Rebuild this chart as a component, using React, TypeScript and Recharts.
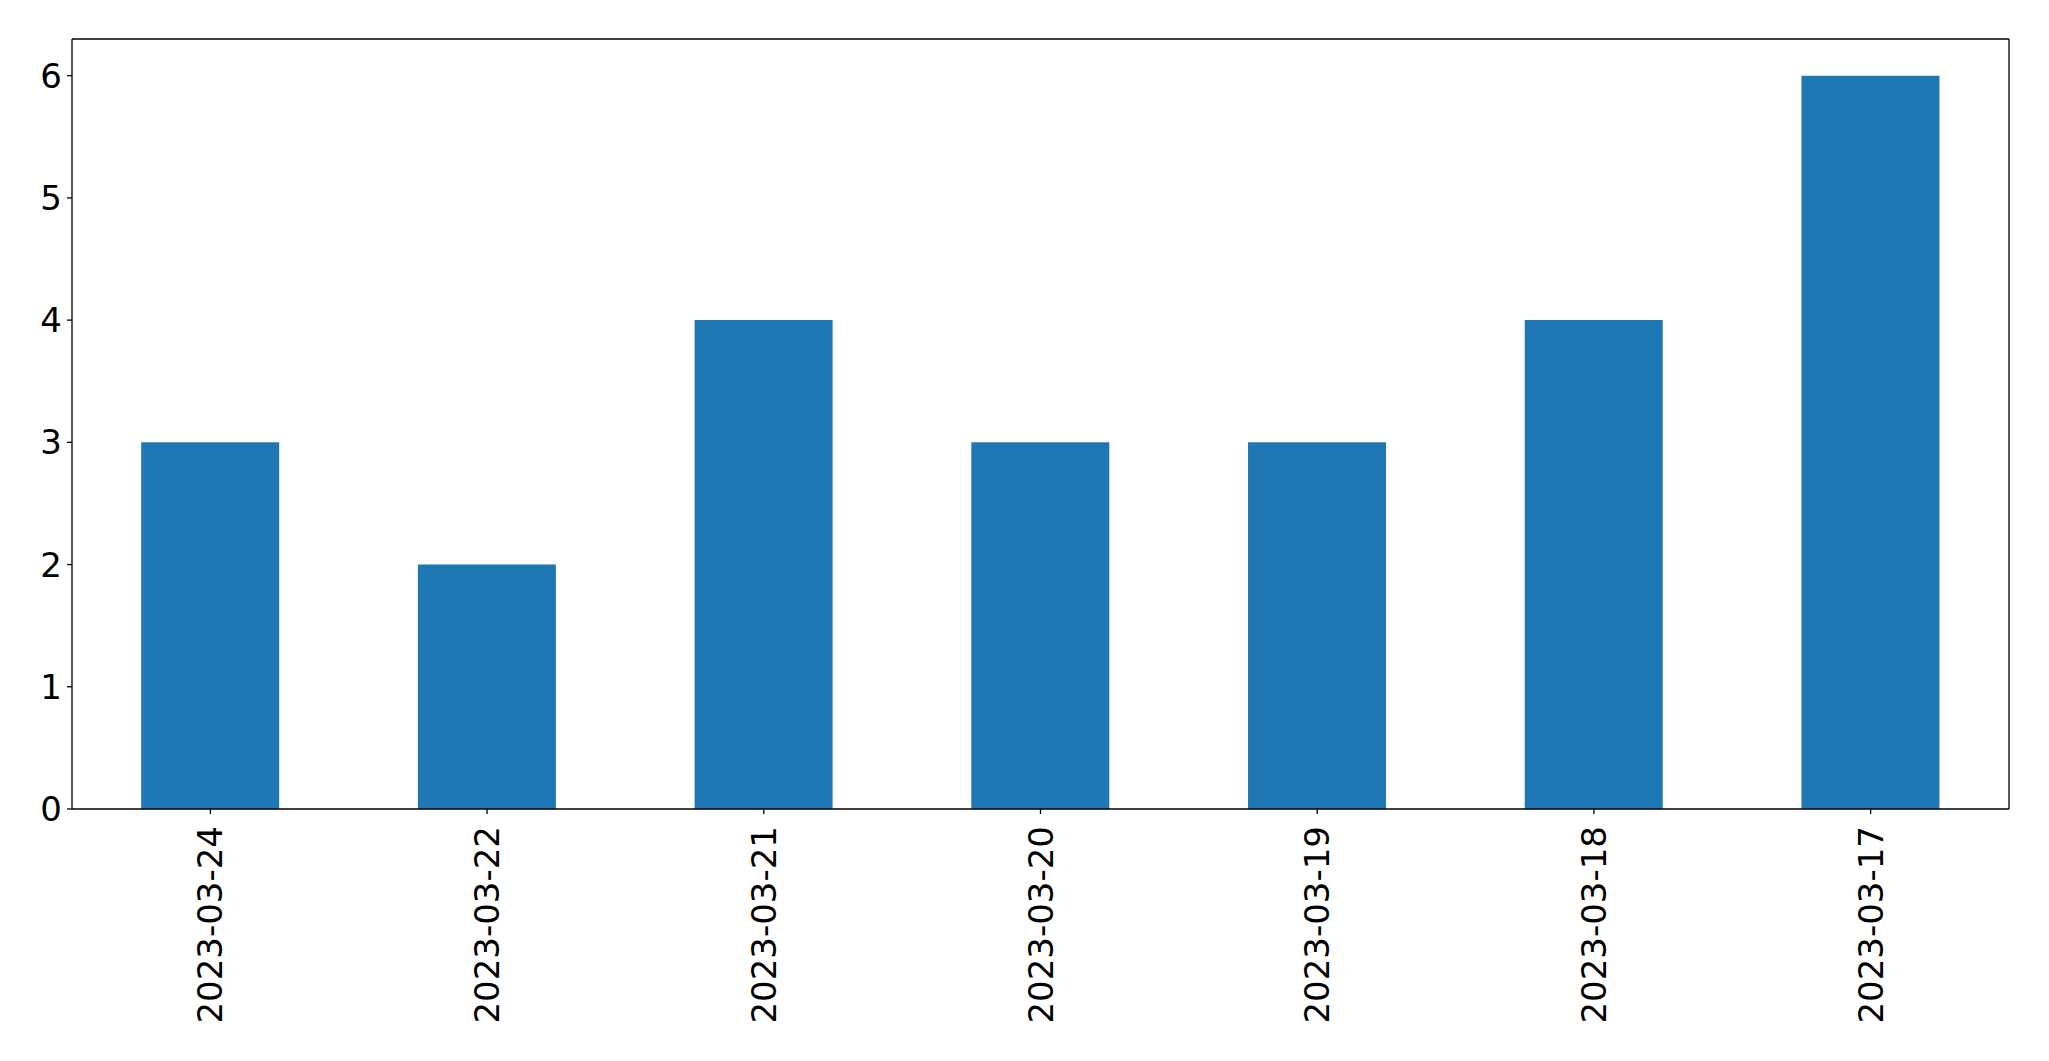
import { BarChart, Bar, XAxis, YAxis, CartesianGrid } from "recharts";

const dates = [
  "2023-03-24",
  "2023-03-22",
  "2023-03-21",
  "2023-03-20",
  "2023-03-19",
  "2023-03-18",
  "2023-03-17",
];
const counts = [3, 2, 4, 3, 3, 4, 6];
const yTicks = [0, 1, 2, 3, 4, 5, 6];

const data = dates.map((d, i) => ({ date: d, count: counts[i] }));

const FONT = "DejaVu Sans";
const FS = 34;

function DateTick(props: any) {
  const { x, y, payload } = props;
  return (
    <text
      x={0}
      y={0}
      transform={`translate(${x},${y + 10}) rotate(-90)`}
      textAnchor="end"
      dominantBaseline="central"
      fontSize={FS}
      fontFamily={FONT}
      fill="#000"
    >
      {payload.value}
    </text>
  );
}

function CountTick(props: any) {
  const { x, y, payload } = props;
  return (
    <text
      x={x}
      y={y}
      textAnchor="end"
      dominantBaseline="central"
      fontSize={FS}
      fontFamily={FONT}
      fill="#000"
    >
      {payload.value}
    </text>
  );
}

export default function App() {
  return (
    <div style={{ position: "absolute", left: 0, top: 0, background: "#fff" }}>
      <BarChart
        width={2049}
        height={1061}
        data={data}
        margin={{ top: 39, right: 40, bottom: 0, left: 0 }}
        barCategoryGap="25%"
      >
        {/* top and right frame lines, like the matplotlib spines */}
        <CartesianGrid
          stroke="#000"
          strokeWidth={1.3}
          horizontalCoordinatesGenerator={({ offset }: any) => [offset.top]}
          verticalCoordinatesGenerator={({ offset }: any) => [
            offset.left + offset.width,
          ]}
        />
        <XAxis
          dataKey="date"
          height={252}
          interval={0}
          tickSize={5}
          tick={<DateTick />}
          axisLine={{ stroke: "#000", strokeWidth: 1.3 }}
          tickLine={{ stroke: "#000", strokeWidth: 1.3 }}
        />
        <YAxis
          width={72}
          domain={[0, 6.3]}
          ticks={yTicks}
          interval={0}
          tickSize={5}
          tickMargin={5}
          tick={<CountTick />}
          axisLine={{ stroke: "#000", strokeWidth: 1.3 }}
          tickLine={{ stroke: "#000", strokeWidth: 1.3 }}
        />
        <Bar dataKey="count" fill="#1f77b4" isAnimationActive={false} />
      </BarChart>
    </div>
  );
}
